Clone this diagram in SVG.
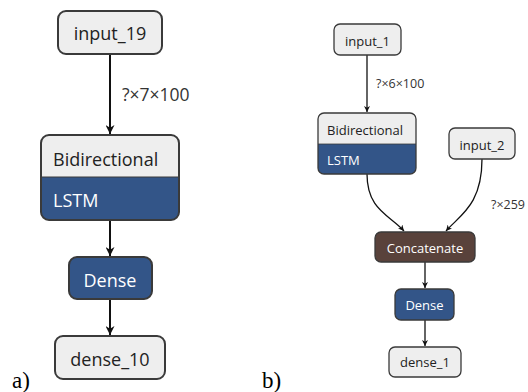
<svg xmlns="http://www.w3.org/2000/svg" width="528" height="392" viewBox="0 0 528 392">
<defs>
<style>
.n{fill:#eeeeee;stroke:#3a3a3a;stroke-width:2}
.nb{fill:#eeeeee;stroke:#3a3a3a;stroke-width:1.3}
.t{font-family:"Open Sans","Noto Sans",sans-serif;fill:#222}
.w{font-family:"Open Sans","Noto Sans",sans-serif;fill:#ffffff}
.lbl{font-family:"Open Sans","Noto Sans",sans-serif;fill:#333}
.e{fill:none;stroke:#111;stroke-width:2}
.eb{fill:none;stroke:#111;stroke-width:1.3}
.cap{font-family:"Liberation Serif","Times New Roman",serif;fill:#000;font-size:23px}
</style>
<marker id="ah" viewBox="0 0 10 10" refX="10" refY="5" markerWidth="6" markerHeight="6" markerUnits="userSpaceOnUse" orient="auto"><path d="M0,0 L10,5 L0,10 L3,5 Z" fill="#111"/></marker>
<marker id="ahb" viewBox="0 0 10 10" refX="10" refY="5" markerWidth="9" markerHeight="9" markerUnits="userSpaceOnUse" orient="auto"><path d="M0,0 L10,5 L0,10 L3,5 Z" fill="#111"/></marker>
</defs>
<g id="edges">
<path class="e" d="M110,54 V134" marker-end="url(#ahb)"/>
<path class="e" d="M110,220 V256" marker-end="url(#ahb)"/>
<path class="e" d="M110,299 V335" marker-end="url(#ahb)"/>
<path class="eb" d="M367,55 V112" marker-end="url(#ah)"/>
<path class="eb" d="M367,174 C367,210 390,215 404,231" marker-end="url(#ah)"/>
<path class="eb" d="M482,159 C482,205 460,215 446,231" marker-end="url(#ah)"/>
<path class="eb" d="M425,262 V288" marker-end="url(#ah)"/>
<path class="eb" d="M425,320 V346" marker-end="url(#ah)"/>
<text class="lbl" x="122" y="101" font-size="17.5">?×7×100</text>
<text class="lbl" x="376" y="88" font-size="12.5">?×6×100</text>
<text class="lbl" x="491" y="209" font-size="12.5">?×259</text>
</g>
<g id="input_19">
<rect class="n" x="58" y="11" width="104" height="43" rx="8"/>
<text class="t" x="110" y="40" font-size="18" text-anchor="middle">input_19</text>
</g>
<g id="bidirectional_a">
<path d="M41,177 V143 a8,8 0 0 1 8,-8 H171 a8,8 0 0 1 8,8 V177 Z" fill="#eeeeee"/>
<path d="M41,177 V212 a8,8 0 0 0 8,8 H171 a8,8 0 0 0 8,-8 V177 Z" fill="#335588"/>
<rect x="41" y="135" width="138" height="85" rx="8" fill="none" stroke="#3a3a3a" stroke-width="2"/>
<line x1="41" y1="177" x2="179" y2="177" stroke="#3a3a3a" stroke-width="1"/>
<text class="t" x="53" y="166" font-size="18">Bidirectional</text>
<text class="w" x="53" y="207" font-size="18">LSTM</text>
</g>
<g id="dense_a">
<rect x="69" y="257" width="83" height="42" rx="8" fill="#335588" stroke="#3a3a3a" stroke-width="2"/>
<text class="w" x="110" y="287" font-size="18" text-anchor="middle">Dense</text>
</g>
<g id="dense_10">
<rect class="n" x="55" y="336" width="110" height="43" rx="8"/>
<text class="t" x="110" y="366" font-size="18" text-anchor="middle">dense_10</text>
</g>
<g id="input_1">
<rect class="nb" x="334" y="24" width="67" height="31" rx="6"/>
<text class="t" x="367.5" y="46" font-size="13" text-anchor="middle">input_1</text>
</g>
<g id="bidirectional_b">
<path d="M318,144 V119 a6,6 0 0 1 6,-6 H410 a6,6 0 0 1 6,6 V144 Z" fill="#eeeeee"/>
<path d="M318,144 V168 a6,6 0 0 0 6,6 H410 a6,6 0 0 0 6,-6 V144 Z" fill="#335588"/>
<rect x="318" y="113" width="98" height="61" rx="6" fill="none" stroke="#3a3a3a" stroke-width="1.3"/>
<line x1="318" y1="144" x2="416" y2="144" stroke="#3a3a3a" stroke-width="0.8"/>
<text class="t" x="327" y="135" font-size="13">Bidirectional</text>
<text class="w" x="327" y="165" font-size="13">LSTM</text>
</g>
<g id="input_2">
<rect class="nb" x="449" y="128" width="66" height="31" rx="6"/>
<text class="t" x="482" y="150" font-size="13" text-anchor="middle">input_2</text>
</g>
<g id="concatenate">
<rect x="375" y="232" width="100" height="30" rx="6" fill="#59423b" stroke="#3a3a3a" stroke-width="1.3"/>
<text class="w" x="425" y="253" font-size="13" text-anchor="middle">Concatenate</text>
</g>
<g id="dense_b">
<rect x="395" y="289" width="59" height="31" rx="6" fill="#335588" stroke="#3a3a3a" stroke-width="1.3"/>
<text class="w" x="424.5" y="310" font-size="13" text-anchor="middle">Dense</text>
</g>
<g id="dense_1">
<rect class="nb" x="389" y="347" width="72" height="30" rx="6"/>
<text class="t" x="425" y="367" font-size="13" text-anchor="middle">dense_1</text>
</g>
<text class="cap" x="12" y="388">a)</text>
<text class="cap" x="262" y="388">b)</text>
</svg>
